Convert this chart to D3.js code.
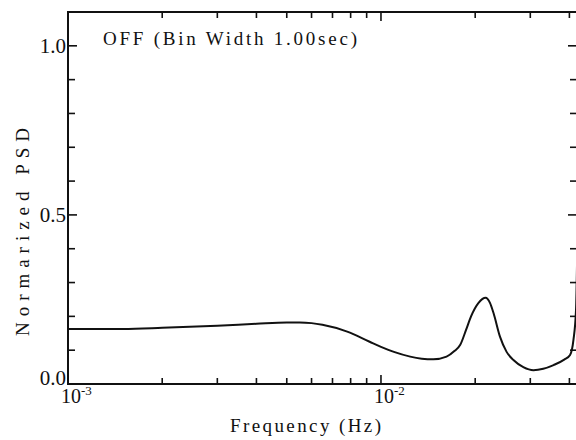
<!DOCTYPE html>
<html>
<head>
<meta charset="utf-8">
<script src="https://cdn.jsdelivr.net/npm/d3@7"></script>
<style>
  body { margin: 0; background: #fff; }
  svg text { font-family: 'Liberation Serif', 'DejaVu Serif', Tinos, Times, serif; }
</style>
</head>
<body>
<svg class="chart"></svg>
<script>
const width = 576
const height = 440

// frequency (Hz) and normalized PSD
const freq = [0.001, 0.0015, 0.002, 0.003, 0.004, 0.005, 0.0055, 0.006, 0.0065, 0.0078, 0.0092,
    0.010, 0.011, 0.0124, 0.0135, 0.0147, 0.0162, 0.0172, 0.0179, 0.0187, 0.0194, 0.0205,
    0.0216, 0.0223, 0.0229, 0.024, 0.0252, 0.0265, 0.0285, 0.0307, 0.033, 0.0356, 0.0385,
    0.0402, 0.0412, 0.042, 0.0423]
const psd = [0.163, 0.163, 0.166, 0.172, 0.178, 0.182, 0.182, 0.180, 0.175, 0.155, 0.125,
    0.110, 0.095, 0.081, 0.075, 0.073, 0.081, 0.098, 0.115, 0.160, 0.200, 0.240,
    0.255, 0.240, 0.209, 0.140, 0.095, 0.071, 0.050, 0.041, 0.045, 0.056, 0.072,
    0.086, 0.130, 0.220, 0.350]

const yMajor = [0, 0.5, 1.0]
const yMinor = [0.1, 0.2, 0.3, 0.4, 0.6, 0.7, 0.8, 0.9]
const xMajor = [0.001, 0.01]
const xMinor = [0.002, 0.003, 0.004, 0.005, 0.006, 0.007, 0.008, 0.009, 0.02, 0.03, 0.04]

const mLeft = 68, mRight = 577, mTop = 12, mBottom = 384
const serif = "'Liberation Serif', 'DejaVu Serif', Tinos, Times, serif"

const svg = d3.select('svg.chart')
    .attr("width", width)
    .attr("height", height)

const x = d3.scaleLog().domain([0.001, 0.0423]).range([mLeft, mRight])
const y = d3.scaleLinear().domain([0, 1.1]).range([mBottom, mTop])

// frame
svg.append("rect")
    .attr("x", mLeft)
    .attr("y", mTop)
    .attr("width", mRight - mLeft)
    .attr("height", mBottom - mTop)
    .attr("fill", "none")
    .attr("stroke", "#111")
    .attr("stroke-width", 2)

// ticks, all inward, on every side
const ticks = svg.append("g").attr("stroke", "#111").attr("stroke-width", 1.6)
const xt = xMajor.map(v => ({ v, len: 9 })).concat(xMinor.map(v => ({ v, len: 6 })))
const yt = yMajor.map(v => ({ v, len: 9 })).concat(yMinor.map(v => ({ v, len: 7 })))

xt.forEach(d => {
    ticks.append("line").attr("x1", x(d.v)).attr("x2", x(d.v)).attr("y1", mBottom).attr("y2", mBottom - d.len)
    ticks.append("line").attr("x1", x(d.v)).attr("x2", x(d.v)).attr("y1", mTop).attr("y2", mTop + d.len)
})
yt.forEach(d => {
    ticks.append("line").attr("x1", mLeft).attr("x2", mLeft + d.len).attr("y1", y(d.v)).attr("y2", y(d.v))
    ticks.append("line").attr("x1", mRight).attr("x2", mRight - d.len).attr("y1", y(d.v)).attr("y2", y(d.v))
})

// y tick labels (0.0 sits a little higher, clear of 10^-3)
svg.append("g").selectAll("text")
    .data(yMajor)
    .join("text")
    .attr("x", mLeft - 2)
    .attr("y", d => y(d) + (d === 0 ? 1 : 7))
    .attr("text-anchor", "end")
    .attr("font-size", 21)
    .attr("fill", "#111")
    .style("font-family", serif)
    .text(d => d.toFixed(1))

// x tick labels 10^n
const xl = svg.append("g").selectAll("text")
    .data(xMajor)
    .join("text")
    .attr("x", d => x(d) - 7)
    .attr("y", mBottom + 19)
    .attr("font-size", 20)
    .attr("fill", "#111")
    .style("font-family", serif)
xl.append("tspan").text("10")
xl.append("tspan")
    .attr("dy", -8)
    .attr("font-size", 13)
    .text(d => Math.round(Math.log10(d)))

// curve
const line = d3.line()
    .x((d, i) => x(freq[i]))
    .y(d => y(d))
    .curve(d3.curveMonotoneX)

svg.append("path")
    .datum(psd)
    .attr("fill", "none")
    .attr("stroke", "#111")
    .attr("stroke-width", 2)
    .attr("d", line)

// labels
svg.append("text")
    .attr("x", 103)
    .attr("y", 45)
    .attr("font-size", 19)
    .attr("fill", "#111")
    .style("font-family", serif)
    .attr("textLength", 254)
    .attr("lengthAdjust", "spacing")
    .text("OFF (Bin Width 1.00sec)")

svg.append("text")
    .attr("x", 230)
    .attr("y", 432)
    .attr("font-size", 19)
    .attr("fill", "#111")
    .style("font-family", serif)
    .attr("textLength", 151)
    .attr("lengthAdjust", "spacing")
    .text("Frequency (Hz)")

svg.append("text")
    .attr("transform", "translate(29,336) rotate(-90)")
    .attr("font-size", 19)
    .attr("fill", "#111")
    .style("font-family", serif)
    .attr("textLength", 208)
    .attr("lengthAdjust", "spacing")
    .text("Normarized PSD")
</script>
</body>
</html>
